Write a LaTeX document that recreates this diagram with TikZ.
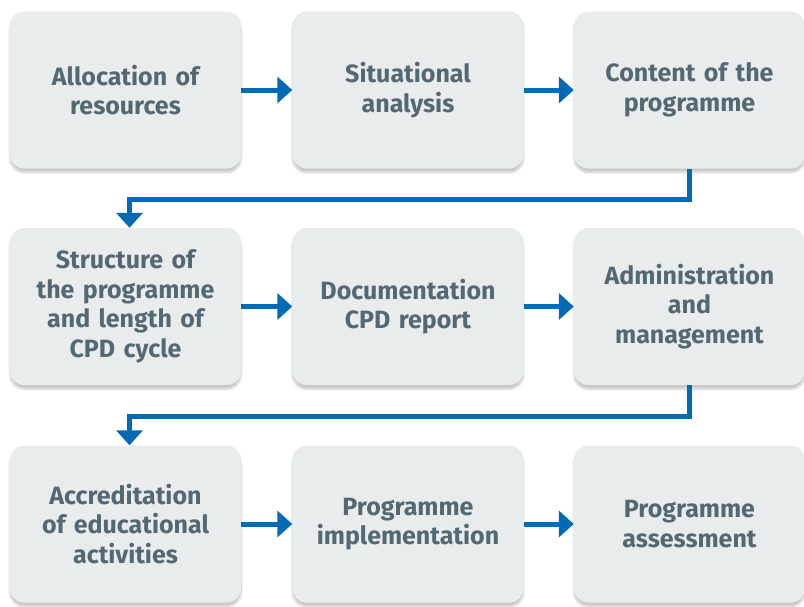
\documentclass[tikz,border=0pt]{standalone}
\usepackage{fontspec}
\setmainfont{Fira Sans}
\definecolor{boxgray}{RGB}{233, 236, 237}
\definecolor{textslate}{RGB}{84, 104, 114}
\definecolor{flowblue}{RGB}{0, 106, 180}
\usetikzlibrary{arrows.meta, positioning, shadows.blur}

\tikzset{
  stage/.style={fill=boxgray, rounded corners=14pt, minimum width=231pt, minimum height=157pt,
    text width=220pt, align=center, text=textslate, font=\fontsize{25}{29.5}\selectfont\bfseries,
    blur shadow={shadow xshift=0pt, shadow yshift=-4pt, shadow blur steps=8, shadow opacity=22}},
  flow/.style={draw=flowblue, line width=5pt, -{Triangle[length=15pt, width=26pt]}},
}

\begin{document}
\begin{tikzpicture}[x=1pt, y=-1pt]
  \useasboundingbox (0, 0) rectangle (804, 606);

  % Row 1
  \node[stage] (alloc) at (125.5, 90) {Allocation of\\resources};
  \node[stage] (situ) at (408, 90) {Situational\\analysis};
  \node[stage] (content) at (689.5, 90) {Content of the\\programme};

  % Row 2
  \node[stage] (struct) at (125.5, 306.5) {Structure of\\the programme\\and length of\\CPD cycle};
  \node[stage] (docu) at (408, 306.5) {Documentation\\CPD report};
  \node[stage] (admin) at (689.5, 306.5) {Administration\\and\\management};

  % Row 3
  \node[stage] (accred) at (125.5, 524) {Accreditation\\of educational\\activities};
  \node[stage] (impl) at (408, 524) {Programme\\implementation};
  \node[stage] (assess) at (689.5, 524) {Programme\\assessment};

  % Arrows
  \draw[flow] (alloc) -- (situ);
  \draw[flow] (situ) -- (content);
  \draw[flow] (struct) -- (docu);
  \draw[flow] (docu) -- (admin);
  \draw[flow] (accred) -- (impl);
  \draw[flow] (impl) -- (assess);

  % Row breaks
  \draw[flow] (content.south) -- ++(0, 31) -| ([xshift=4pt]struct.north);
  \draw[flow] (admin.south) -- ++(0, 31) -| ([xshift=4pt]accred.north);
\end{tikzpicture}
\end{document}
